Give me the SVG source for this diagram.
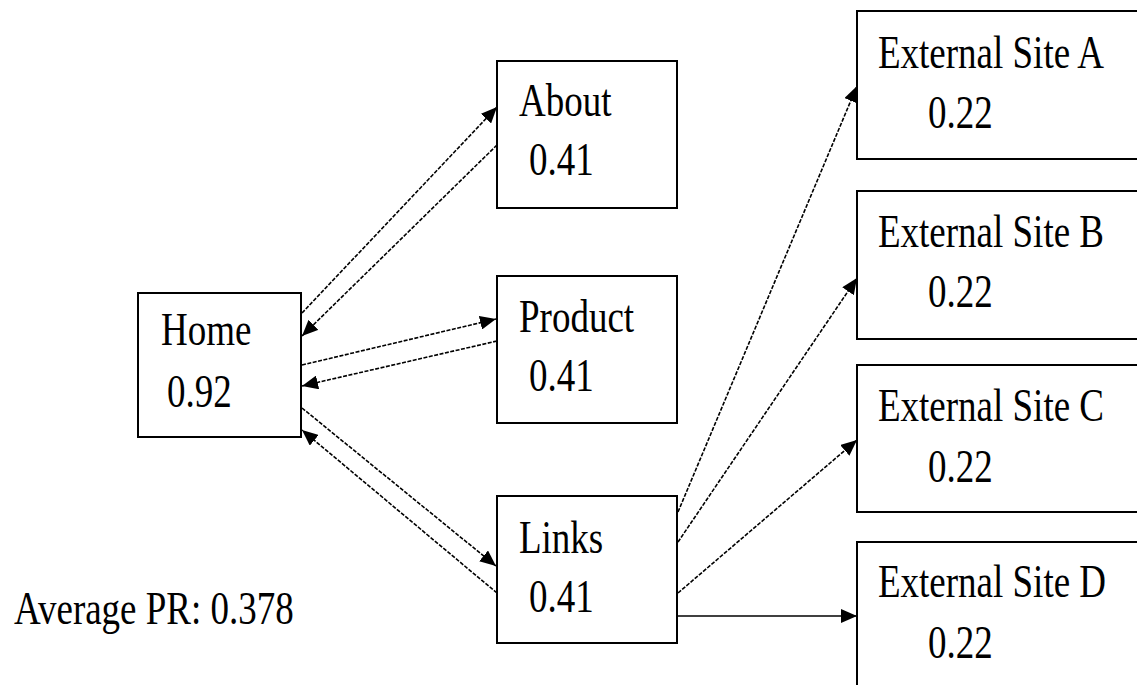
<svg xmlns="http://www.w3.org/2000/svg" width="1137" height="685" viewBox="0 0 1137 685">
  <style>
    .box { fill: #fff; stroke: #000; stroke-width: 2; }
    .lbl { font-family: "Liberation Serif", "Times New Roman", serif; font-size: 37px; fill: #000; }
    .link { fill: none; stroke: #000; stroke-width: 1.6; stroke-dasharray: 4 1.5; marker-end: url(#arrow); }
    .solid { stroke-dasharray: none; }
  </style>
  <defs>
    <marker id="arrow" markerUnits="userSpaceOnUse" markerWidth="18" markerHeight="14" refX="16" refY="7" orient="auto">
      <path d="M0,0 L16,7 L0,14 Z" fill="#000"/>
    </marker>
  </defs>
  <rect width="1137" height="685" fill="#fff"/>

  <!-- page nodes -->
  <g id="home">
    <rect class="box" x="138" y="293" width="163" height="144"/>
    <text class="lbl" transform="translate(161,345) scale(1,1.27)">Home</text>
    <text class="lbl" transform="translate(167,407) scale(1,1.27)">0.92</text>
  </g>
  <g id="about">
    <rect class="box" x="497" y="61" width="180" height="147"/>
    <text class="lbl" transform="translate(519,116) scale(1,1.27)">About</text>
    <text class="lbl" transform="translate(529,175) scale(1,1.27)">0.41</text>
  </g>
  <g id="product">
    <rect class="box" x="497" y="276" width="180" height="147"/>
    <text class="lbl" transform="translate(519,332) scale(1,1.27)">Product</text>
    <text class="lbl" transform="translate(529,391) scale(1,1.27)">0.41</text>
  </g>
  <g id="links">
    <rect class="box" x="497" y="496" width="180" height="147"/>
    <text class="lbl" transform="translate(519,553) scale(1,1.27)">Links</text>
    <text class="lbl" transform="translate(529,612) scale(1,1.27)">0.41</text>
  </g>
  <g id="ext-a">
    <rect class="box" x="857" y="11" width="300" height="148"/>
    <text class="lbl" transform="translate(878,68) scale(1,1.27)">External Site A</text>
    <text class="lbl" transform="translate(928,128) scale(1,1.27)">0.22</text>
  </g>
  <g id="ext-b">
    <rect class="box" x="857" y="191" width="300" height="148"/>
    <text class="lbl" transform="translate(878,247) scale(1,1.27)">External Site B</text>
    <text class="lbl" transform="translate(928,307) scale(1,1.27)">0.22</text>
  </g>
  <g id="ext-c">
    <rect class="box" x="857" y="365" width="300" height="147"/>
    <text class="lbl" transform="translate(878,421) scale(1,1.27)">External Site C</text>
    <text class="lbl" transform="translate(928,482) scale(1,1.27)">0.22</text>
  </g>
  <g id="ext-d">
    <rect class="box" x="857" y="542" width="300" height="160"/>
    <text class="lbl" transform="translate(878,597) scale(1,1.27)">External Site D</text>
    <text class="lbl" transform="translate(928,658) scale(1,1.27)">0.22</text>
  </g>

  <g id="summary">
    <text class="lbl" transform="translate(14,624) scale(1,1.27)">Average PR: 0.378</text>
  </g>

  <!-- links between pages -->
  <g id="connectors">
    <line class="link" x1="302" y1="313" x2="497" y2="107"/>
    <line class="link" x1="497" y1="145" x2="302" y2="336"/>
    <line class="link" x1="302" y1="365" x2="496" y2="319"/>
    <line class="link" x1="497" y1="341" x2="302" y2="386"/>
    <line class="link" x1="302" y1="408" x2="496" y2="566"/>
    <line class="link" x1="497" y1="593" x2="302" y2="430"/>
    <line class="link" x1="678" y1="512" x2="857" y2="86"/>
    <line class="link" x1="678" y1="542" x2="857" y2="278"/>
    <line class="link" x1="678" y1="593" x2="857" y2="440"/>
    <line class="link solid" x1="678" y1="616" x2="857" y2="616"/>
  </g>
</svg>
